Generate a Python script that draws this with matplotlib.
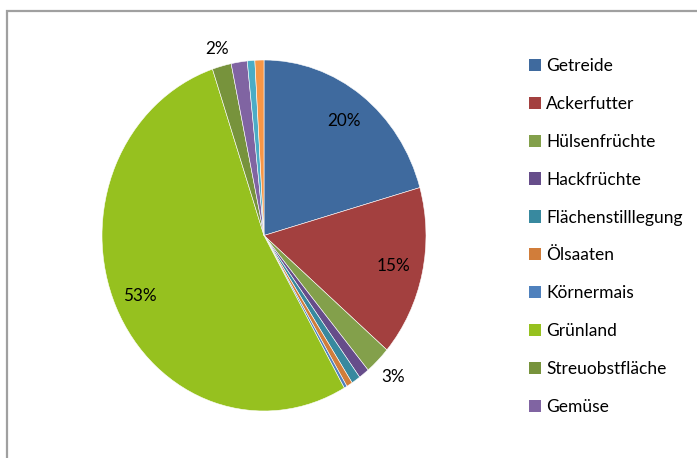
import numpy as np
import matplotlib
matplotlib.use("Agg")
import matplotlib.pyplot as plt
from matplotlib.patches import Patch, Rectangle

categories = ["Getreide", "Ackerfutter", "Hülsenfrüchte", "Hackfrüchte",
              "Flächenstilllegung", "Ölsaaten", "Körnermais", "Grünland",
              "Streuobstfläche", "Gemüse", "Sonstige Kulturen", "Sonstiges"]
shares = [20.6, 15.7, 2.6, 1.05, 0.9, 0.6, 0.3, 53.1, 1.9, 1.6, 0.75, 0.9]
shown_labels = ["20%", "15%", "3%", None, None, None, None, "53%", "2%", None, None, None]
legend_count = 10

colors = ["#3F6A9E", "#A3403F", "#83A04B", "#664D8A", "#38899F", "#D17D3A",
          "#4F81BD", "#96C11F", "#77933C", "#8064A2", "#4BACC6", "#F79646"]
label_dist = [0.82, 0.82, 1.13, 0, 0, 0, 0, 0.84, 1.1, 0, 0, 0]

plt.rcParams['font.family'] = ['Lato', 'DejaVu Sans']

W, H = 697, 458
fig = plt.figure(figsize=(W / 100, H / 100), dpi=100)

# outer frame
fig.patches.append(Rectangle((6.5 / W, -0.2), 1.5, (H - 10.5) / H + 0.2,
                             transform=fig.transFigure, fill=False,
                             edgecolor="#A0A0A0", lw=1.6, clip_on=False))

ax = fig.add_axes([102 / W, (H - 411) / H, 324 / W, 351 / H])
wedges, _ = ax.pie(shares, colors=colors, startangle=90, counterclock=False,
                   wedgeprops=dict(edgecolor="white", linewidth=0.4))
ax.set_aspect('auto')
ax.set_xlim(-1, 1)
ax.set_ylim(-1, 1)

for w, lab, d in zip(wedges, shown_labels, label_dist):
    if lab is None:
        continue
    mid = np.deg2rad((w.theta1 + w.theta2) / 2)
    ax.text(d * np.cos(mid), d * np.sin(mid), lab, ha="center", va="center",
            fontsize=12.3, color="black", clip_on=False)

handles = [Patch(facecolor=c, edgecolor="none") for c in colors[:legend_count]]
fig.legend(handles, categories[:legend_count], loc="upper left",
           bbox_to_anchor=(529 / W, 1 - 58 / H), frameon=False, fontsize=12.5,
           borderpad=0, borderaxespad=0, handlelength=0.7, handleheight=0.7,
           handletextpad=0.28, labelspacing=1.26)

fig.savefig("out.png", dpi=100)
